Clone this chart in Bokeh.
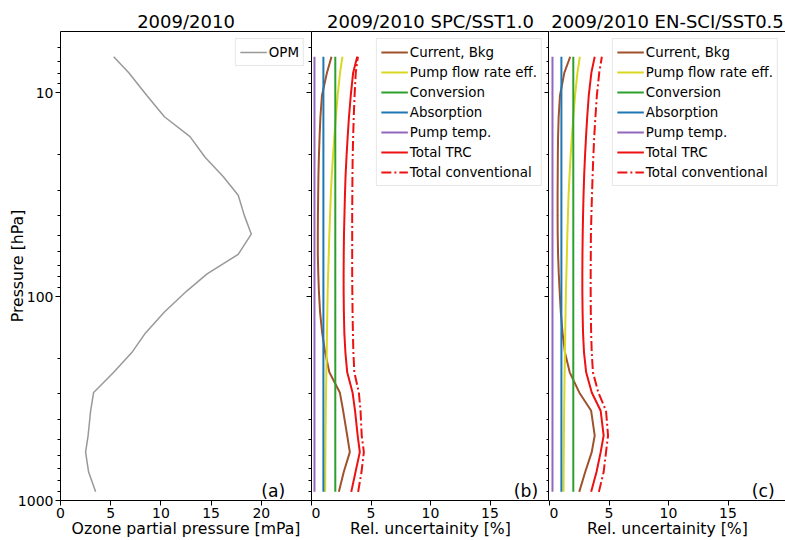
from bokeh.plotting import figure
from bokeh.layouts import row
from bokeh.models import (Range1d, LinearAxis, FixedTicker, PrintfTickFormatter,
                          Legend, LegendItem, Label, LogScale)
from bokeh.embed import file_html
from bokeh.resources import INLINE

FONT = "DejaVu Sans"

# Pressure levels of the 2009/2010 mean profile [hPa], surface to top
pressure = [907, 725, 579, 480, 363, 295, 235, 188, 151, 119, 93.6, 77.3, 62,
            49.3, 39.8, 31.8, 25.7, 20.7, 16.4, 13.1, 10.3, 7.96, 6.65]

# Ozone partial pressure [mPa]
opm = [3.5, 2.8, 2.5, 2.75, 3.0, 3.3, 5.3, 7.1, 8.45, 10.35, 12.6, 14.6, 17.7,
       19.0, 18.3, 17.7, 16.2, 14.4, 12.9, 10.35, 8.6, 6.8, 5.3]

# Relative uncertainty components [%], SPC sonde with 1.0% KI solution
spc_current = [2.3, 2.71, 3.22, 3.0, 2.66, 2.38, 1.5, 1.15, 0.9, 0.72, 0.62, 0.57, 0.53,
               0.53, 0.54, 0.56, 0.58, 0.62, 0.68, 0.75, 0.88, 1.3, 1.68]
spc_flow = [1.15, 1.16, 1.17, 1.18, 1.2, 1.22, 1.25, 1.28, 1.3, 1.33, 1.36, 1.4, 1.45,
            1.5, 1.56, 1.62, 1.7, 1.8, 1.92, 2.05, 2.2, 2.4, 2.6]
spc_conversion = [2.0, 2.0, 2.0, 2.0, 2.0, 2.0, 2.0, 2.0, 2.0, 2.0, 2.0, 2.0, 2.0,
                  2.0, 2.0, 2.0, 2.0, 2.0, 2.0, 2.0, 2.0, 2.0, 2.0]
spc_absorption = [1.0, 1.0, 1.0, 1.0, 1.0, 1.0, 1.0, 1.0, 1.0, 1.0, 1.0, 1.0, 1.0,
                  1.0, 1.0, 1.0, 1.0, 1.0, 1.0, 1.0, 1.0, 1.0, 1.0]
spc_pumptemp = [0.25, 0.25, 0.25, 0.25, 0.25, 0.25, 0.25, 0.25, 0.25, 0.25, 0.25, 0.25, 0.25,
                0.25, 0.25, 0.25, 0.25, 0.25, 0.25, 0.25, 0.25, 0.25, 0.25]
spc_trc = [3.34, 3.7, 4.06, 3.88, 3.66, 3.45, 3.0, 2.85, 2.76, 2.72, 2.7, 2.7, 2.71,
           2.73, 2.77, 2.81, 2.86, 2.94, 3.04, 3.15, 3.3, 3.5, 3.84]
spc_conventional = [3.92, 4.2, 4.4, 4.22, 4.12, 3.98, 3.6, 3.52, 3.48, 3.45, 3.43, 3.42, 3.42,
                    3.42, 3.42, 3.43, 3.44, 3.46, 3.5, 3.55, 3.62, 3.72, 3.9]

# Relative uncertainty components [%], EN-SCI sonde with 0.5% KI solution
ensci_current = [2.5, 3.0, 3.55, 3.8, 3.5, 2.5, 1.7, 1.3, 1.1, 0.95, 0.85, 0.78, 0.72,
                 0.69, 0.68, 0.68, 0.69, 0.7, 0.72, 0.77, 0.88, 1.25, 1.74]
ensci_flow = [1.18, 1.19, 1.2, 1.21, 1.23, 1.25, 1.27, 1.3, 1.32, 1.35, 1.38, 1.42, 1.46,
              1.5, 1.55, 1.6, 1.68, 1.77, 1.88, 2.0, 2.15, 2.35, 2.55]
ensci_conversion = [2.0, 2.0, 2.0, 2.0, 2.0, 2.0, 2.0, 2.0, 2.0, 2.0, 2.0, 2.0, 2.0,
                    2.0, 2.0, 2.0, 2.0, 2.0, 2.0, 2.0, 2.0, 2.0, 2.0]
ensci_absorption = [1.0, 1.0, 1.0, 1.0, 1.0, 1.0, 1.0, 1.0, 1.0, 1.0, 1.0, 1.0, 1.0,
                    1.0, 1.0, 1.0, 1.0, 1.0, 1.0, 1.0, 1.0, 1.0, 1.0]
ensci_pumptemp = [0.25, 0.25, 0.25, 0.25, 0.25, 0.25, 0.25, 0.25, 0.25, 0.25, 0.25, 0.25, 0.25,
                  0.25, 0.25, 0.25, 0.25, 0.25, 0.25, 0.25, 0.25, 0.25, 0.25]
ensci_trc = [3.5, 3.95, 4.3, 4.55, 4.3, 3.55, 3.08, 2.9, 2.82, 2.78, 2.76, 2.76, 2.77,
             2.79, 2.82, 2.86, 2.91, 2.98, 3.07, 3.17, 3.3, 3.52, 3.8]
ensci_conventional = [4.15, 4.55, 4.75, 4.92, 4.75, 4.1, 3.65, 3.55, 3.5, 3.47, 3.46, 3.46, 3.47,
                      3.48, 3.52, 3.57, 3.62, 3.68, 3.76, 3.86, 3.98, 4.18, 4.4]

x_ticks_opm = [0, 5, 10, 15, 20]
x_ticks_unc = [0, 5, 10, 15]
p_major = [10, 100, 1000]
p_minor = [6, 7, 8, 9, 20, 30, 40, 50, 60, 70, 80, 90, 200, 300, 400, 500, 600, 700, 800, 900]

COMPONENTS = [
    ("Current, Bkg", "#a0522d", "solid"),
    ("Pump flow rate eff.", "#d8d820", "solid"),
    ("Conversion", "#2ca02c", "solid"),
    ("Absorption", "#1f77b4", "solid"),
    ("Pump temp.", "#9467bd", "solid"),
    ("Total TRC", "#ee1111", "solid"),
    ("Total conventional", "#ee1111", "10 3 2 3"),
]

TOP = 31
BOTTOM = 38


def style_axis(ax):
    ax.axis_line_color = "black"
    ax.axis_line_width = 1
    ax.major_tick_line_color = "black"
    ax.minor_tick_line_color = "black"
    ax.major_label_text_color = "black"
    ax.major_label_text_font = FONT
    ax.major_label_text_font_size = "14px"
    ax.axis_label_text_font = FONT
    ax.axis_label_text_font_size = "15.7px"
    ax.axis_label_text_font_style = "normal"
    ax.axis_label_text_color = "black"


def spine_axis(ticks, minor=None, inward=True):
    """An axis drawn as a frame edge only, with unlabelled (optionally inward) ticks."""
    ax = LinearAxis(ticker=FixedTicker(ticks=ticks, minor_ticks=minor or []),
                    formatter=PrintfTickFormatter(format=" "))
    style_axis(ax)
    ax.major_label_text_font_size = "0px"
    ax.major_label_standoff = 0
    ax.major_tick_out = 0
    ax.minor_tick_out = 0
    ax.major_tick_in = 5 if inward else 0
    ax.minor_tick_in = 3 if (inward and minor) else 0
    return ax


def make_panel(title, width, x_end, x_ticks, x_label, left=0, outline=False):
    p = figure(width=width, height=540, x_range=Range1d(0, x_end), y_range=Range1d(1000, 5),
               x_axis_location=None, y_axis_location=None,
               output_backend="svg", toolbar_location=None,
               min_border_left=left, min_border_right=0,
               min_border_top=TOP, min_border_bottom=BOTTOM,
               background_fill_color="white", border_fill_color="white")
    p.y_scale = LogScale()
    p.grid.visible = False
    p.outline_line_color = "black" if outline else None
    p.outline_line_width = 1

    p.title.text = title
    p.title.align = "center"
    p.title.text_font = FONT
    p.title.text_font_size = "18px"
    p.title.text_font_style = "normal"
    p.title.text_color = "black"
    p.title.standoff = 0

    xb = LinearAxis(ticker=FixedTicker(ticks=x_ticks), axis_label=x_label)
    style_axis(xb)
    xb.major_tick_out = 5
    xb.major_tick_in = 0
    xb.minor_tick_out = 0
    xb.major_label_standoff = 2
    xb.axis_label_standoff = -2
    p.add_layout(xb, "below")
    p.add_layout(spine_axis(x_ticks, inward=False), "above")
    return p


def add_legend(p, items):
    leg = Legend(items=items, location="top_right", margin=7, padding=4,
                 glyph_width=27, glyph_height=18, label_height=18, spacing=2,
                 label_standoff=2, label_text_font=FONT, label_text_font_size="13.4px",
                 label_text_color="black", border_line_color="#d0d0d0",
                 border_line_width=1, background_fill_alpha=0.85)
    p.add_layout(leg, "center")


def panel_tag(p, text, x):
    p.add_layout(Label(x=x, y=900, text=text, text_font=FONT, text_font_size="17.2px",
                       text_color="black", text_baseline="alphabetic", text_align="left"))


# (a) ozone profile
pa = make_panel("2009/2010", 311, 25, x_ticks_opm, "Ozone partial pressure [mPa]", left=60)
ya = LinearAxis(ticker=FixedTicker(ticks=p_major, minor_ticks=p_minor),
                formatter=PrintfTickFormatter(format="%d"), axis_label="Pressure [hPa]")
style_axis(ya)
ya.major_tick_out = 5
ya.major_tick_in = 0
ya.minor_tick_out = 3
ya.minor_tick_in = 0
ya.major_label_standoff = 2
ya.axis_label_standoff = -12
pa.add_layout(ya, "left")
# ticks of the shared pressure axis, pointing left from the (b) frame edge
pa.add_layout(spine_axis(p_major, p_minor), "right")
r_opm = pa.line(opm, pressure, line_color="#999999", line_width=1.5)
add_legend(pa, [LegendItem(label="OPM", renderers=[r_opm])])
panel_tag(pa, "(a)", 20)


def uncertainty_panel(title, width, x_end, series, tag, right_ticks, outline):
    p = make_panel(title, width, x_end, x_ticks_unc, "Rel. uncertainity [%]", outline=outline)
    if right_ticks:
        p.add_layout(spine_axis(p_major, p_minor), "right")
    items = []
    for (name, color, dash), vals in zip(COMPONENTS, series):
        r = p.line(vals, pressure, line_color=color, line_width=2, line_dash=dash)
        items.append(LegendItem(label=name, renderers=[r]))
    add_legend(p, items)
    panel_tag(p, tag, 17)
    return p


pb = uncertainty_panel("2009/2010 SPC/SST1.0", 238, 20,
                       [spc_current, spc_flow, spc_conversion, spc_absorption,
                        spc_pumptemp, spc_trc, spc_conventional], "(b)", True, True)
pc = uncertainty_panel("2009/2010 EN-SCI/SST0.5", 236, 20 * 236 / 238,
                       [ensci_current, ensci_flow, ensci_conversion, ensci_absorption,
                        ensci_pumptemp, ensci_trc, ensci_conventional], "(c)", False, False)

layout = row(pa, pb, pc, spacing=0)
open("out.html", "w").write(file_html(layout, INLINE))
